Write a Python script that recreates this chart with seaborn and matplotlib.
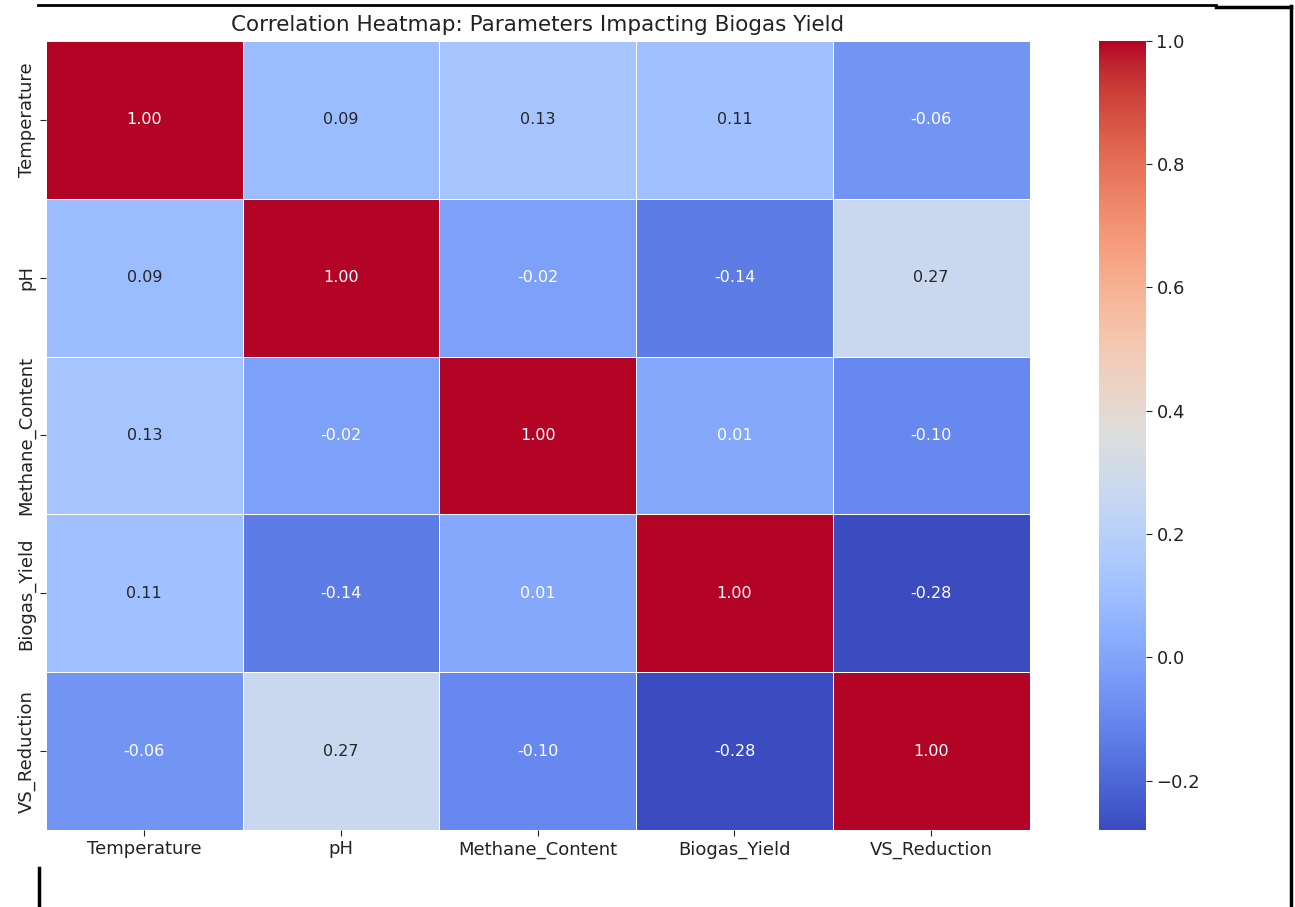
import numpy as np
import pandas as pd
import matplotlib
matplotlib.use("Agg")
import matplotlib.pyplot as plt
from matplotlib.lines import Line2D
import seaborn as sns

# Parameters and their pairwise correlation coefficients
params = ["Temperature", "pH", "Methane_Content", "Biogas_Yield", "VS_Reduction"]
temperature = [1.00, 0.09, 0.13, 0.11, -0.06]
ph = [0.09, 1.00, -0.02, -0.14, 0.27]
methane_content = [0.13, -0.02, 1.00, 0.01, -0.10]
biogas_yield = [0.11, -0.14, 0.01, 1.00, -0.28]
vs_reduction = [-0.06, 0.27, -0.10, -0.28, 1.00]

corr = pd.DataFrame(
    [temperature, ph, methane_content, biogas_yield, vs_reduction],
    index=params, columns=params,
)

plt.rcParams["font.family"] = ["DejaVu Sans"]

fig = plt.figure(figsize=(12.95, 9.07), dpi=100)
ax = fig.add_axes([0.0355, 0.0849, 0.7595, 0.870])
cax = fig.add_axes([0.8486, 0.0849, 0.0364, 0.870])

sns.heatmap(
    corr, ax=ax, cbar_ax=cax, cmap="coolwarm", annot=True, fmt=".2f",
    linewidths=0.5, linecolor="white", annot_kws={"fontsize": 11.5},
)

ax.set_title("Correlation Heatmap: Parameters Impacting Biogas Yield",
             fontsize=15.5, color="#222222", pad=7)
ax.tick_params(axis="both", labelsize=13, colors="#222222", length=4)
ax.set_yticklabels(params, rotation=90, va="center")
ax.set_xticklabels(params, rotation=0)
cax.tick_params(labelsize=13, colors="#222222", length=4)

# Page frame lines around the figure
fig.add_artist(Line2D([38 / 1295, 1216 / 1295], [1 - 5 / 907, 1 - 5 / 907],
                      color="black", lw=2))
fig.add_artist(Line2D([1216 / 1295, 1291 / 1295], [1 - 7 / 907, 1 - 7 / 907],
                      color="black", lw=2.5))
fig.add_artist(Line2D([1291 / 1295, 1291 / 1295], [0, 1 - 6 / 907],
                      color="black", lw=2.5))
fig.add_artist(Line2D([39 / 1295, 39 / 1295], [0, 1 - 868 / 907],
                      color="black", lw=2.5))

fig.savefig("out.png", dpi=100)
